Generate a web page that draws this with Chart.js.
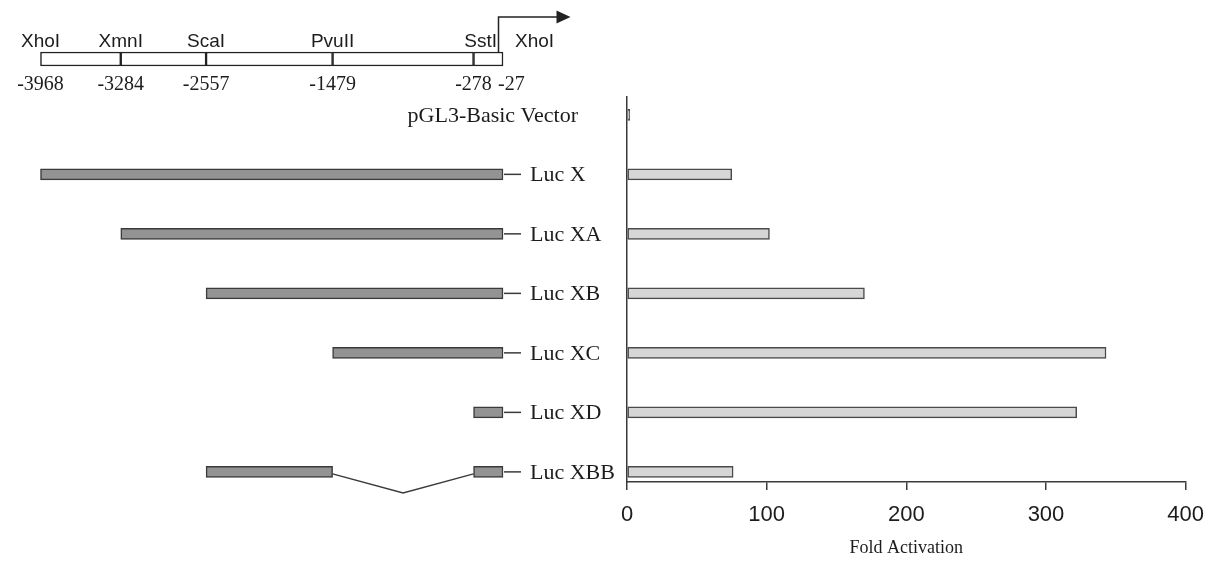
<!DOCTYPE html>
<html>
<head>
<meta charset="utf-8">
<script src="https://cdn.jsdelivr.net/npm/chart.js@4.4.1/dist/chart.umd.min.js"></script>
<style>
html,body{margin:0;padding:0;background:#fff;width:1216px;height:563px;overflow:hidden}
canvas{position:absolute;left:0;top:0}
</style>
</head>
<body>
<canvas id="bars" width="1216" height="563"></canvas>
<canvas id="frags" width="640" height="563"></canvas>
<canvas id="map" width="640" height="100"></canvas>
<script>
// ---- data ----
const constructs = ['pGL3-Basic Vector', 'Luc X', 'Luc XA', 'Luc XB', 'Luc XC', 'Luc XD', 'Luc XBB'];
const foldActivation = [2, 75, 102, 170, 343, 322, 76];
const fragmentStart = [null, -3968, -3284, -2557, -1479, -278, -2557];
const fragmentEnd   = [null, -27, -27, -27, -27, -27, -1479];
const secondStart   = [null, null, null, null, null, null, -278];
const secondEnd     = [null, null, null, null, null, null, -27];
const siteNames     = ['XhoI', 'XmnI', 'ScaI', 'PvuII', 'SstI', 'XhoI'];
const sitePositions = [-3968, -3284, -2557, -1479, -278, -27];
const xTicks = [0, 100, 200, 300, 400];
const xTitle = 'Fold Activation';

// ---- shared style ----
const SANS = '"Liberation Sans", Arial, sans-serif';
const SERIF = '"Liberation Serif", "Times New Roman", serif';
const INK = '#1c1c1c';
const LINE = '#3a3a3a';
const ROWS = {type: 'linear', display: false, reverse: true, offset: false, min: -0.3, max: 6.17};
const GENOME = {type: 'linear', display: false, offset: false, min: sitePositions[0], max: sitePositions[sitePositions.length - 1]};
const base = {indexAxis: 'y', responsive: false, animation: false, devicePixelRatio: 1,
  plugins: {legend: {display: false}, tooltip: {enabled: false}}};

// ---- right: fold activation bars ----
new Chart(document.getElementById('bars'), {
  type: 'bar',
  data: {datasets: [{
    data: constructs.map((c, i) => ({x: foldActivation[i], y: i})),
    backgroundColor: '#d6d6d6', borderColor: '#4a4a4a', borderWidth: 1.5,
    borderSkipped: false, barThickness: 11, clip: false
  }]},
  options: Object.assign({}, base, {
    layout: {padding: {left: 627, right: 29, top: 97, bottom: 0}},
    scales: {
      y: Object.assign({}, ROWS, {display: true, ticks: {display: false},
        grid: {display: false, drawTicks: false}, border: {display: true, color: LINE, width: 1.5},
        afterFit: s => { s.width = 0; }}),
      x: {type: 'linear', offset: false, min: xTicks[0], max: xTicks[xTicks.length - 1],
        afterBuildTicks: s => { s.ticks = xTicks.map(v => ({value: v})); },
        ticks: {color: INK, font: {family: SANS, size: 22}, padding: 12, maxRotation: 0},
        grid: {drawOnChartArea: false, drawTicks: true, tickLength: 8, color: LINE, lineWidth: 1.5},
        border: {color: LINE, width: 1.5},
        title: {display: true, text: xTitle, color: INK, font: {family: SERIF, size: 18}, padding: {top: 2, bottom: 4}},
        afterFit: s => { s.height = 81; }}
    }
  })
});

// ---- left: promoter fragments ----
const fragLabels = {
  id: 'fragLabels',
  afterDatasetsDraw(chart) {
    const {ctx, scales: {x, y}} = chart;
    const last = sitePositions[sitePositions.length - 1];
    ctx.save();
    ctx.strokeStyle = LINE; ctx.lineWidth = 1.5;
    ctx.fillStyle = INK; ctx.font = '22px ' + SERIF; ctx.textBaseline = 'alphabetic';
    constructs.forEach((name, i) => {
      const py = y.getPixelForValue(i);
      const end = secondEnd[i] != null ? secondEnd[i] : fragmentEnd[i];
      if (end != null) {
        const px = x.getPixelForValue(end);
        ctx.beginPath(); ctx.moveTo(px + 1, py); ctx.lineTo(px + 18, py); ctx.stroke();
        ctx.textAlign = 'left';
        ctx.fillText(name, px + 27, py + 7);
      } else {
        ctx.textAlign = 'right';
        ctx.fillText(name, x.getPixelForValue(last) + 75, py + 7);
      }
      if (secondStart[i] != null) {
        const a = x.getPixelForValue(fragmentEnd[i]);
        const b = x.getPixelForValue(secondStart[i]);
        ctx.beginPath(); ctx.moveTo(a, py + 2); ctx.lineTo((a + b) / 2, py + 21); ctx.lineTo(b, py + 2); ctx.stroke();
      }
    });
    ctx.restore();
  }
};

const fragStyle = {backgroundColor: '#939393', borderColor: '#3a3a3a', borderWidth: 1.5,
  borderSkipped: false, barThickness: 11, grouped: false, clip: false};
new Chart(document.getElementById('frags'), {
  type: 'bar',
  data: {datasets: [
    Object.assign({data: constructs.map((c, i) => fragmentStart[i] == null ? null : ({x: [fragmentStart[i], fragmentEnd[i]], y: i})).filter(Boolean)}, fragStyle),
    Object.assign({data: constructs.map((c, i) => secondStart[i] == null ? null : ({x: [secondStart[i], secondEnd[i]], y: i})).filter(Boolean)}, fragStyle)
  ]},
  options: Object.assign({}, base, {
    layout: {padding: {left: 40.5, right: 137, top: 97, bottom: 81}},
    scales: {x: GENOME, y: ROWS}
  }),
  plugins: [fragLabels]
});

// ---- top: restriction map ----
const mapLabels = {
  id: 'mapLabels',
  afterDatasetsDraw(chart) {
    const {ctx, chartArea, scales: {x}} = chart;
    const n = sitePositions.length;
    const endPx = x.getPixelForValue(sitePositions[n - 1]);
    ctx.save();
    ctx.fillStyle = INK; ctx.textBaseline = 'alphabetic';
    // enzyme names
    ctx.font = '19px ' + SANS;
    siteNames.forEach((nm, k) => {
      const px = x.getPixelForValue(sitePositions[k]);
      if (k === n - 1) { ctx.textAlign = 'left'; ctx.fillText(nm, endPx + 12, chartArea.top - 5); }
      else if (k === n - 2) { ctx.textAlign = 'right'; ctx.fillText(nm, endPx - 6, chartArea.top - 5); }
      else { ctx.textAlign = 'center'; ctx.fillText(nm, px, chartArea.top - 5); }
    });
    // coordinates
    ctx.font = '20px ' + SERIF;
    sitePositions.forEach((v, k) => {
      const px = x.getPixelForValue(v);
      if (k === n - 1) { ctx.textAlign = 'left'; ctx.fillText(String(v), px - 5, chartArea.bottom + 24); }
      else { ctx.textAlign = 'center'; ctx.fillText(String(v), px, chartArea.bottom + 24); }
    });
    // transcription start arrow
    const ax = endPx - 4.5, ay = 17;
    ctx.strokeStyle = '#222'; ctx.lineWidth = 1.5;
    ctx.beginPath(); ctx.moveTo(ax, chartArea.top); ctx.lineTo(ax, ay); ctx.lineTo(ax + 60, ay); ctx.stroke();
    ctx.fillStyle = '#222';
    ctx.beginPath(); ctx.moveTo(ax + 58, ay - 6.5); ctx.lineTo(ax + 72, ay); ctx.lineTo(ax + 58, ay + 6.5); ctx.closePath(); ctx.fill();
    ctx.restore();
  }
};

new Chart(document.getElementById('map'), {
  type: 'bar',
  data: {datasets: [{
    data: sitePositions.slice(0, -1).map((s, k) => ({x: [s, sitePositions[k + 1]], y: 0})),
    backgroundColor: '#ffffff', borderColor: '#222', borderWidth: 1.5,
    borderSkipped: false, barThickness: 14, grouped: false, clip: false
  }]},
  options: Object.assign({}, base, {
    layout: {padding: {left: 40.5, right: 137, top: 52, bottom: 34}},
    scales: {x: GENOME, y: {type: 'linear', display: false, offset: false, min: -0.5, max: 0.5}}
  }),
  plugins: [mapLabels]
});
</script>
</body>
</html>
